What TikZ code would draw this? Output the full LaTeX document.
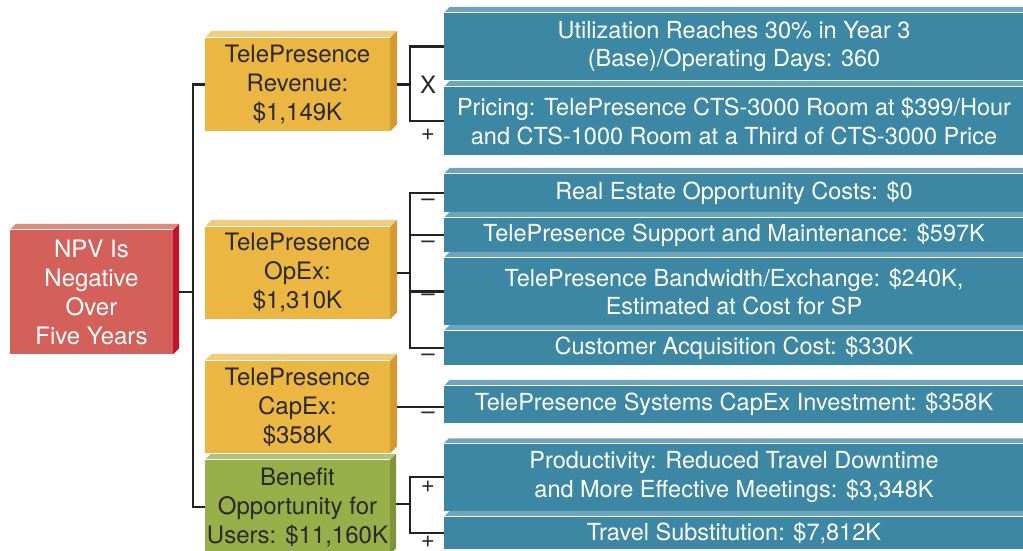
\documentclass[tikz,border=0pt]{standalone}
\usepackage{fontspec}
\setmainfont{TeX Gyre Heros}
\usetikzlibrary{calc}
\definecolor{redF}{HTML}{D4605A}
\definecolor{redT}{HTML}{E2897F}
\definecolor{redS}{HTML}{C4122F}
\definecolor{orF}{HTML}{EBB642}
\definecolor{orT}{HTML}{F1CB7E}
\definecolor{orS}{HTML}{D39A33}
\definecolor{grF}{HTML}{98AE48}
\definecolor{grT}{HTML}{B3C47A}
\definecolor{grS}{HTML}{7E9438}
\definecolor{blF}{HTML}{3C88A4}
\definecolor{blT}{HTML}{6EA5BC}
\definecolor{lineC}{HTML}{222222}
\definecolor{txtD}{HTML}{2A2A2A}
\newcommand\mytopface[3]{%
  \fill[#2] (#1.north west) -- ++(#3,-#3) -- ($(#1.north east)+(#3,-#3)$) -- (#1.north east) -- cycle;
  \draw[white, line width=0.7pt] (#1.north west) -- (#1.north east);}
\newcommand\mysideface[3]{%
  \fill[#2] (#1.north east) -- ++(#3,-#3) -- ($(#1.south east)+(#3,-#3)$) -- (#1.south east) -- cycle;}
\tikzset{
  base/.style={rectangle, inner sep=0pt, align=center, font=\fontsize{24}{29}\selectfont},
  redbox/.style={base, fill=redF, text=white, minimum width=163pt},
  orbox/.style={base, fill=orF, text=txtD, minimum width=185pt},
  grbox/.style={base, fill=grF, text=txtD, minimum width=185pt},
  blbox/.style={base, fill=blF, text=white, minimum width=580pt, font=\fontsize{23.5}{28.5}\selectfont},
  conn/.style={draw=lineC, line width=2.4pt},
  sign/.style={font=\fontsize{24}{26}\selectfont, text=txtD, inner sep=0pt}
}
\begin{document}
\begin{tikzpicture}[x=1pt,y=-1pt]
\useasboundingbox (0,0) rectangle (1023,550);
\clip (0,0) rectangle (1023,550);
% left boxes
\node[redbox, minimum height=124pt] (npv) at (91.5,292) {NPV Is\\Negative\\Over\\Five Years};
\node[orbox, minimum height=93pt] (rev) at (297.5,84.5) {TelePresence\\Revenue:\\\$1,149K};
\node[orbox, minimum height=92pt] (opex) at (297.5,273) {TelePresence\\OpEx:\\\$1,310K};
\node[orbox, minimum height=92pt] (capex) at (297.5,407) {TelePresence\\CapEx:\\\$358K};
\node[grbox, minimum height=94pt] (ben) at (297.5,507) {Benefit\\Opportunity for\\Users: \$11,160K};
\mytopface{npv}{redT}{6}\mysideface{npv}{redS}{6}
\mytopface{rev}{orT}{7}\mysideface{rev}{orS}{7}
\mytopface{opex}{orT}{7}\mysideface{opex}{orS}{7}
\mytopface{capex}{orT}{7}\mysideface{capex}{orS}{7}
\mytopface{ben}{grT}{6}\mysideface{ben}{grS}{6}
% right boxes
\node[blbox, minimum height=67pt] (b1) at (734,46.5) {Utilization Reaches 30\% in Year 3\\(Base)/Operating Days: 360};
\node[blbox, minimum height=68pt] (b2) at (734,121) {Pricing: TelePresence CTS-3000 Room at \$399/Hour\\and CTS-1000 Room at a Third of CTS-3000 Price};
\node[blbox, minimum height=38pt] (b3) at (734,193) {Real Estate Opportunity Costs: \$0};
\node[blbox, minimum height=34pt] (b4) at (734,235) {TelePresence Support and Maintenance: \$597K};
\node[blbox, minimum height=67pt] (b5) at (734,291.5) {TelePresence Bandwidth/Exchange: \$240K,\\Estimated at Cost for SP};
\node[blbox, minimum height=34pt] (b6) at (734,348) {Customer Acquisition Cost: \$330K};
\node[blbox, minimum height=37pt] (b7) at (734,404.5) {TelePresence Systems CapEx Investment: \$358K};
\node[blbox, minimum height=67pt] (b8) at (734,477) {Productivity: Reduced Travel Downtime\\and More Effective Meetings: \$3,348K};
\node[blbox, minimum height=32pt] (b9) at (734,533) {Travel Substitution: \$7,812K};
\mytopface{b1}{blT}{6}\mytopface{b2}{blT}{6}\mytopface{b3}{blT}{6}
\mytopface{b4}{blT}{6}\mytopface{b5}{blT}{6}\mytopface{b6}{blT}{6}
\mytopface{b7}{blT}{6}\mytopface{b8}{blT}{5}\mytopface{b9}{blT}{6}
% main tree
\coordinate (mv) at ($(rev.west)+(-12,0)$);
\draw[conn] (rev.west) -- (mv) |- (ben.west);
\draw[conn] ($(npv.east)+(6,0)$) -- (npv.east -| mv);
% revenue
\coordinate (j1) at ($(rev.east)+(20,0)$);
\draw[conn] ($(rev.east)+(7,0)$) -- (j1);
\draw[conn] (b1.west) -| (j1) |- (b2.west);
% opex
\coordinate (j2) at ($(opex.east)+(20,0)$);
\draw[conn] ($(opex.east)+(7,0)$) -- (j2);
\draw[conn] (b3.west) -| (j2) |- (b6.west);
\draw[conn] (j2) |- (b4.west);
\draw[conn] (j2) |- (b5.west);
% capex
\draw[conn] ($(capex.east)+(7,0)$) -- (capex.east -| b7.west);
% benefit
\coordinate (j4) at ($(ben.east)+(20,-3)$);
\draw[conn] ($(ben.east)+(6,-3)$) -- (j4);
\draw[conn] (b8.west) -| (j4) |- (b9.west);
% signs
\node[sign] (s1) at (428,85) {X};
\node[sign] (s2) at (428,135) {+};
\node[sign] (s3) at (428,203) {–};
\node[sign] (s4) at (428,245) {–};
\node[sign] (s5) at (428,298) {–};
\node[sign] (s6) at (428,358) {–};
\node[sign] (s7) at (428,416) {–};
\node[sign] (s8) at (428,487) {+};
\node[sign] (s9) at (428,542) {+};
\end{tikzpicture}
\end{document}
